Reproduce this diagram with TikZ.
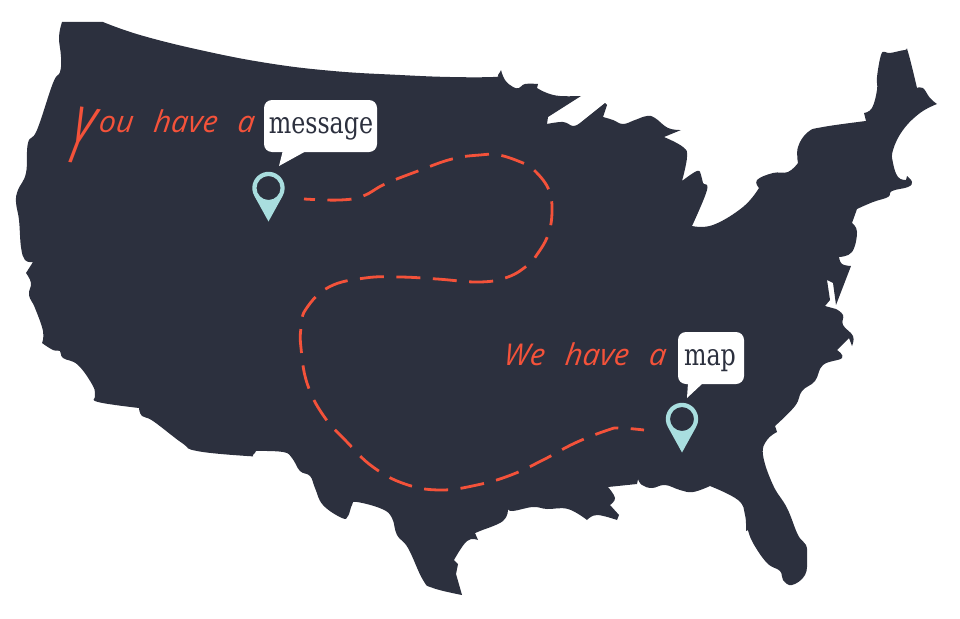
\documentclass[tikz,border=0pt]{standalone}
\usepackage{fontspec}
\newfontfamily\msgfont[FakeStretch=0.88]{DejaVu Serif Condensed}
\newfontfamily\handfont[LetterSpace=1,WordSpace=2.5]{Open Sans}
\definecolor{land}{HTML}{2C303E}
\definecolor{coral}{HTML}{F4523A}
\definecolor{pinblue}{HTML}{A9DEDF}
\tikzset{
 coast/.style={smooth,tension=.7},
 hand/.style={text=coral,inner sep=0pt,anchor=base west,font=\handfont\itshape\fontsize{30}{30}\selectfont,xslant=0.12},
 bubble/.style={fill=white,rounded corners=8pt,inner sep=0pt,minimum height=52pt},
 bubbletext/.style={inner sep=0pt,anchor=base,text=land,font=\msgfont\fontsize{30}{30}\selectfont},
 route/.style={draw=coral,line width=2.8pt,dash pattern=on 24pt off 12.5pt,dash phase=13pt}
}
\newcommand{\pinat}[2]{%
 \fill[pinblue,even odd rule] (#1-14.03,#2+8.1) arc[start angle=150,end angle=390,radius=16.2] -- (#1,#2+33.5) -- cycle
   (#1,#2) circle[radius=12];
}
\begin{document}
\begin{tikzpicture}[x=1pt,y=-1pt]
\useasboundingbox (0,0) rectangle (960,618);
\fill[land]
 (62,22) -- (103,22)
 -- plot[coast] coordinates {(103,22)(140,35)(200,50)(267,63)(333,71)(400,75)(450,77)(493,77)(498,75)(501,70)}
 -- plot[coast] coordinates {(501,70)(505,80)(513,87)(519,88)(525,84)(538,84)} -- (537,88)
 -- plot[coast] coordinates {(537,88)(547,93)(560,96)(581,96)} -- (548,117) -- (547,124)
 -- plot[coast] coordinates {(547,124)(563,122)(573,126)(580,123)} -- (605,103) -- (607,105) -- (603,117)
 -- plot[coast] coordinates {(603,117)(613,120)(623,124)(635,120)(647,116)(655,118)(668,128)(681,130)} -- (664,137)
 -- plot[coast] coordinates {(664,137)(683,147)(687,157)(682,181)} 
 -- plot[coast] coordinates {(682,181)(697,171)(701,175)(703,183)(707,190)(692,226)} 
 -- plot[coast] coordinates {(692,226)(713,225)(743,207)(759,188)}
 -- plot[coast] coordinates {(759,188)(757,180)(773,173)(788,172)(798,163)}
 -- plot[coast] coordinates {(798,163)(798,147)(808,132)(823,127)(866,121)} -- (864,113)
 -- plot[coast] coordinates {(864,113)(872,108)(877,90)(877,77)(881,55)(885,52)(890,53)(905,50)(908,52)(917,88)}
 -- plot[coast] coordinates {(917,88)(923,88)(930,98)(937,104)}
 -- plot[coast] coordinates {(937,104)(920,113)(903,130)(893,150)(893,163)(898,177)(906,180)} -- (907,176)
 -- plot[coast] coordinates {(907,176)(912,182)(908,187)(892,191)(888,197)(873,202)(857,209)} -- (852,223)
 -- plot[coast] coordinates {(852,223)(857,232)(852,252)(839,257)}
 -- plot[coast] coordinates {(839,257)(842,264)(851,266)} -- (836,305) -- (833,283) -- (827,280) -- (830,300) -- (825,306) -- (836,309)
 -- plot[coast] coordinates {(836,309)(843,315)(843,325)(853,336)(852,346)} -- (849,338) -- (837,350)
 -- plot[coast] coordinates {(837,350)(842,358)(823,365)(815,381)(802,391)(795,406)(775,426)} -- (777,432)
 -- plot[coast] coordinates {(777,432)(767,440)(763,455)(773,485)(787,508)(798,535)(806,545)(807,558)(805,575)(792,585)(783,580)(780,571)(767,563)(753,543)(748,530)} -- (746,531)
 -- plot[coast] coordinates {(746,531)(745,515)(738,500)(710,486)}
 -- plot[coast] coordinates {(710,486)(693,492)(680,490)(665,485)(652,488)(642,485)(638,479)} -- (637,484) -- (608,487)
 -- plot[coast] coordinates {(608,487)(615,498)(610,505)} -- (619,515) -- (617,520)
 -- plot[coast] coordinates {(617,520)(597,515)(587,520)}
 -- plot[coast] coordinates {(587,520)(568,509)(547,509)(533,507)(513,511)(508,509)}
 -- plot[coast] coordinates {(508,509)(503,521)(480,531)(475,533)} -- (478,540)
 -- plot[coast] coordinates {(478,540)(467,541)(454,560)} -- (458,564) -- (456,574) -- (462,595)
 -- plot[coast] coordinates {(462,595)(433,588)(423,580)(408,548)(397,535)(392,518)(382,509)(357,502)(352,505)(348,516)(342,518)(323,505)(315,488)(310,476)(300,471)(292,458)(283,452)(256,451)}
 -- plot[coast] coordinates {(256,451)(253,455)(247,456)(197,451)(182,443)(153,421)(142,416)(139,408)}
 -- plot[coast] coordinates {(139,408)(98,402)(95,396)(93,386)(78,365)(63,358)(60,351)(53,350)(42,343)}
 -- plot[coast] coordinates {(42,343)(43,331)(35,308)(29,295)(31,283)(26,273)} -- (33,262)
 -- plot[coast] coordinates {(33,262)(25,260)(21,247)(19,220)(16,202)(18,190)(26,173)(28,143)(37,130)(53,83)(60,72)(61,57)(59,37)(62,22)}
 -- cycle;

% first pin and speech bubble
\pinat{268.5}{188}
\fill[white] (283,150) -- (279,166) -- (308,150) -- cycle;
\node[bubble,minimum width=113pt] (msg) at (320.5,126) {};
\node[bubbletext] (msgtext) at (321,133) {message};
\node[hand] (you) at (75,132) {\makebox[23pt][l]{\hspace{-9pt}\raisebox{-29pt}{\rotatebox{-8}{\scalebox{1.05}[1.95]{\fontsize{40}{40}\selectfont Y}}}}ou have a};

% second pin and speech bubble
\pinat{682}{419}
\fill[white] (688,383) -- (687,398) -- (703,383) -- cycle;
\node[bubble,minimum width=66pt] (mapbox) at (711,358) {};
\node[bubbletext] (maptext) at (710,365) {map};
\node[hand] (we) at (503,365) {We have a};

% dashed connector
\coordinate (routeA) at (304,199);
\coordinate (routeB) at (644,430);
\draw[route] plot[smooth,tension=.7] coordinates {(routeA)(340,200)(363,196)(385,184)(418,171)(452,159)(480,155)(499,155)(523,163)(533,169)(548,188)(552,210)(548,235)(536,256)(528,265)(508,277)(480,282)(437,279)(400,277)(365,278)(329,287)(306,309)(301,328)(301,348)(307,383)(323,415)(347,442)(373,467)(405,484)(440,490)(477,485)(511,475)(543,460)(575,443)(608,430)(620,428)(routeB)};
\end{tikzpicture}
\end{document}
